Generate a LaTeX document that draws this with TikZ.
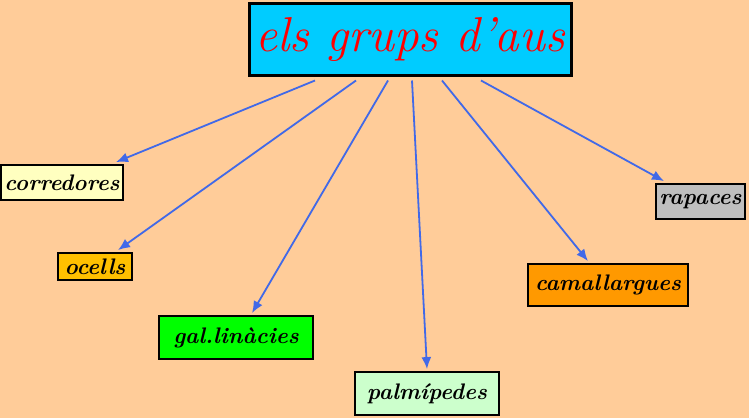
\documentclass[tikz,border=0pt]{standalone}
\usepackage{fontspec}
\usetikzlibrary{arrows.meta}
\definecolor{peach}{HTML}{FFCC99}
\definecolor{titlecyan}{HTML}{00CCFF}
\definecolor{arrowblue}{HTML}{4169E8}
\definecolor{paleyellow}{HTML}{FFFFC0}
\definecolor{gold}{HTML}{FFC000}
\definecolor{palegreen}{HTML}{CCFFCC}
\definecolor{darkorange}{HTML}{FF9900}
\begin{document}
\begin{tikzpicture}[x=1pt,y=-1pt,
  grup/.style={draw=black,line width=1.8pt,inner sep=0pt,font=\fontsize{22.5}{24}\selectfont\bfseries\itshape},
  fletxa/.style={color=arrowblue,line width=1.8pt,-{Latex[length=12pt,width=10pt]}}]

\fill[peach] (0,0) rectangle (749,418);
\useasboundingbox (0,0) rectangle (749,418);

\node[draw=black,line width=3pt,fill=titlecyan,minimum width=322pt,minimum height=72pt,inner sep=0pt,text=red,font=\fontsize{49}{52}\selectfont\itshape] (title) at (410,39) {els grups d'aus};

\node[grup,fill=paleyellow,minimum width=122pt,minimum height=35pt] (corr) at (62,182.5) {corredores};
\node[grup,fill=gold,minimum width=74pt,minimum height=27pt] (ocells) at (95,266.5) {ocells};
\node[grup,fill=green,minimum width=154pt,minimum height=43pt] (gal) at (236,337.5) {gal.linàcies};
\node[grup,fill=palegreen,minimum width=144pt,minimum height=43pt] (palm) at (427,393.5) {palmípedes};
\node[grup,fill=darkorange,minimum width=160pt,minimum height=42pt] (cama) at (608,285) {camallargues};
\node[grup,fill=lightgray,minimum width=89pt,minimum height=35pt] (rap) at (700.5,201.5) {rapaces};

\draw[fletxa] ([shift={(-95pt,-4pt)}]title.south) -- ([shift={(54pt,2pt)}]corr.north);
\draw[fletxa] ([shift={(-54pt,-4pt)}]title.south) -- ([shift={(23pt,2pt)}]ocells.north);
\draw[fletxa] ([shift={(-22pt,-4pt)}]title.south) -- ([shift={(16pt,2pt)}]gal.north);
\draw[fletxa] ([shift={(2pt,-4pt)}]title.south) -- ([shift={(0pt,2pt)}]palm.north);
\draw[fletxa] ([shift={(32pt,-4pt)}]title.south) -- ([shift={(-20pt,2pt)}]cama.north);
\draw[fletxa] ([shift={(71pt,-4pt)}]title.south) -- ([shift={(-36.5pt,2pt)}]rap.north);

\end{tikzpicture}
\end{document}
